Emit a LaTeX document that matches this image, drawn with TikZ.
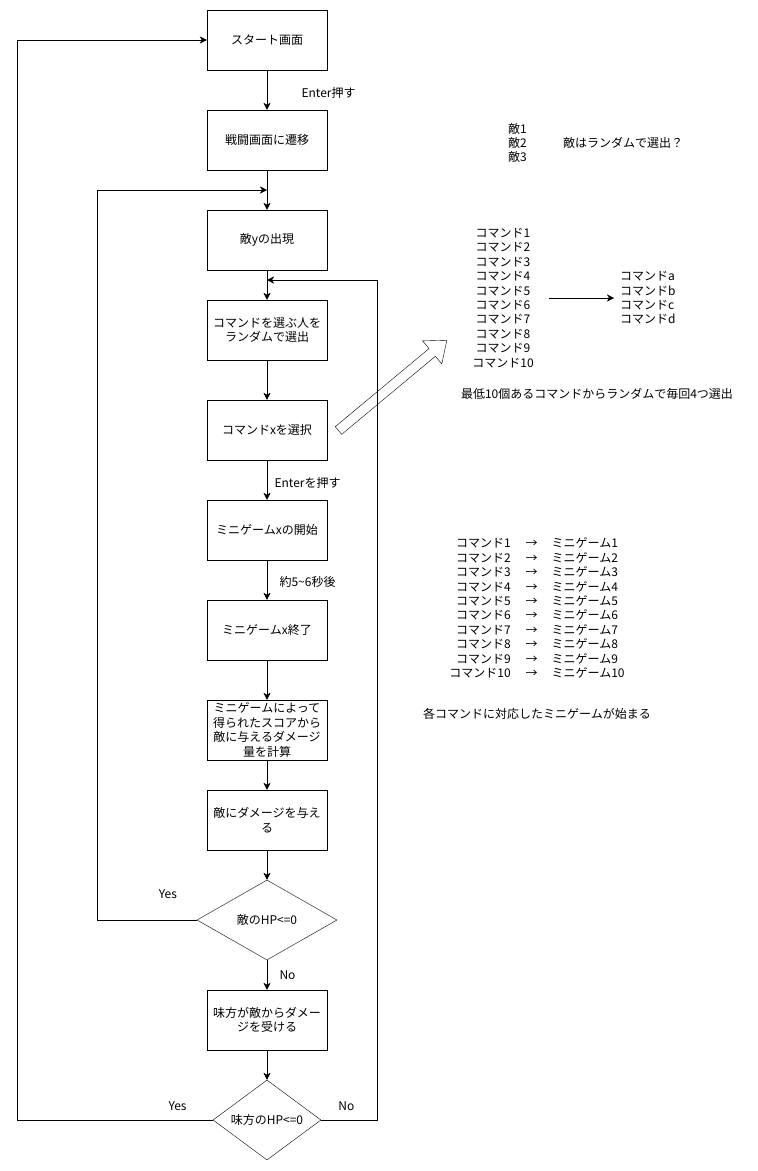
\documentclass[tikz,border=0pt]{standalone}
\usepackage{fontspec}
\setmainfont{Noto Sans CJK JP}
\usetikzlibrary{arrows.meta,positioning,calc,shapes.geometric}
\newcommand{\maprow}[1]{コマンド#1\hspace{15pt}→\hspace{14pt}ミニゲーム#1}

\tikzset{
	proc/.style={draw, minimum width=120pt, minimum height=60pt, align=center, inner sep=1pt},
	decide/.style={draw, diamond, minimum height=80pt, inner sep=0pt, aspect=1.75},
	note/.style={align=center, inner sep=0pt},
}

\begin{document}
\begin{tikzpicture}[x=1pt, y=-1pt, font=\fontsize{12pt}{14.4pt}\selectfont, >={Stealth[length=7pt,width=7pt,inset=2pt]}]
	\useasboundingbox (0,0) rectangle (758,1171);

	% main flow
	\node[proc] (start) at (267,40) {スタート画面};
	\node[proc] (battle) at (267,140) {戦闘画面に遷移};
	\node[proc] (enemy) at (267,240) {敵yの出現};
	\node[proc] (pick) at (267,330) {コマンドを選ぶ人を\\ランダムで選出};
	\node[proc] (selCmd) at (267,430) {コマンドxを選択};
	\node[proc] (gameStart) at (267,530) {ミニゲームxの開始};
	\node[proc] (gameEnd) at (267,630) {ミニゲームx終了};
	\node[proc, inner sep=0pt] (calcDmg) at (267,730) {ミニゲームによって\\得られたスコアから\\敵に与えるダメージ\\量を計算};
	\node[proc] (hitEnemy) at (267,820) {敵にダメージを与え\\る};
	\node[decide, minimum width=140pt] (hpEnemy) at (267,920) {敵のHP<=0};
	\node[proc] (hitAlly) at (267,1020) {味方が敵からダメー\\ジを受ける};
	\node[decide, minimum width=108pt] (hpAlly) at (267,1120) {味方のHP<=0};

	\coordinate (joinA) at (267,190);
	\coordinate (joinC) at (267,280);
	\coordinate (loopA1) at (97,920);
	\coordinate (loopA2) at (97,190);
	\coordinate (loopB1) at (17,1120);
	\coordinate (loopB2) at (17,40);
	\coordinate (loopC1) at (377,1120);
	\coordinate (loopC2) at (377,280);

	\path[->] (start) edge node[right=31pt, yshift=-3pt] {Enter押す} (battle);
	\path[->] (battle) edge (enemy);
	\path[->] (enemy) edge (pick);
	\path[->] (pick) edge (selCmd);
	\path[->] (selCmd) edge node[right=4pt, yshift=-3pt] {Enterを押す} (gameStart);
	\path[->] (gameStart) edge node[right=9pt, yshift=-2pt] {約5\textasciitilde6秒後} (gameEnd);
	\path[->] (gameEnd) edge (calcDmg);
	\path[->] (calcDmg) edge (hitEnemy);
	\path[->] (hitEnemy) edge (hpEnemy);
	\path[->] (hpEnemy) edge node[right=9pt] {No} (hitAlly);
	\path[->] (hitAlly) edge (hpAlly);

	% loops back
	\draw[->] (hpEnemy) -- node[pos=0.29, above=18pt] {Yes} (loopA1) -- (loopA2) -- (joinA);
	\draw[->] (hpAlly) -- node[pos=0.18, above=6pt] {Yes} (loopB1) -- (loopB2) -- (start);
	\draw[->] (hpAlly) -- node[pos=0.45, above=6pt] {No} (loopC1) -- (loopC2) -- (joinC);

	% hollow arrow to the command list
	\begin{scope}[shift={(338.5,430.5)}, rotate=39.8]
		\draw (0,-5) -- (122,-5) -- (122,-15) -- (141,0) -- (122,15) -- (122,5) -- (0,5) -- cycle;
	\end{scope}

	% notes
	\node[note, align=left, anchor=west] (enemyList) at (508,143) {敵1\\敵2\\敵3};
	\node[note, anchor=west] (enemyNote) at (563,143) {敵はランダムで選出？};
	\node[note] (cmdList) at (503,298) {コマンド1\\コマンド2\\コマンド3\\コマンド4\\コマンド5\\コマンド6\\コマンド7\\コマンド8\\コマンド9\\コマンド10};
	\node[note, align=left, anchor=west] (cmdPick) at (620,298) {コマンドa\\コマンドb\\コマンドc\\コマンドd};
	\path[->, shorten <=15pt, shorten >=6pt] (cmdList) edge (cmdPick);
	\node[note] (pickNote) at (597,394) {最低10個あるコマンドからランダムで毎回4つ選出};
	\node[note] (mapList) at (537,608) {\maprow{1}\\\maprow{2}\\\maprow{3}\\\maprow{4}\\\maprow{5}\\\maprow{6}\\\maprow{7}\\\maprow{8}\\\maprow{9}\\\maprow{10}};
	\node[note] (mapNote) at (537,714) {各コマンドに対応したミニゲームが始まる};
\end{tikzpicture}
\end{document}
